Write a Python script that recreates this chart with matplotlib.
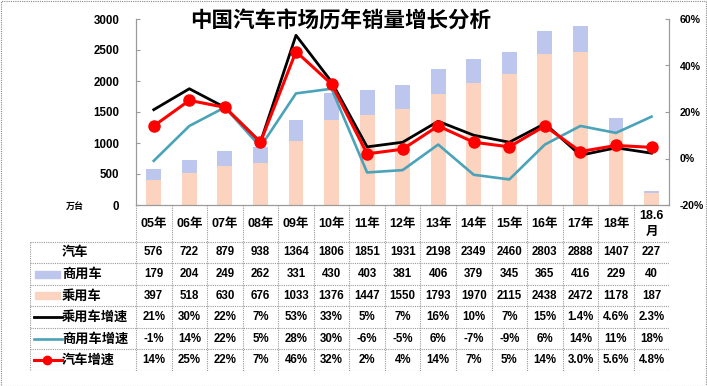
import matplotlib
matplotlib.use('Agg')
import matplotlib.pyplot as plt
from matplotlib.patches import Rectangle
import numpy as np

plt.rcParams['font.family'] = ['Liberation Sans', 'Noto Sans CJK SC']
plt.rcParams['font.weight'] = 'bold'

# datos
anios = ['05年', '06年', '07年', '08年', '09年', '10年', '11年', '12年', '13年',
         '14年', '15年', '16年', '17年', '18年', '18.6\n月']
total = [576, 722, 879, 938, 1364, 1806, 1851, 1931, 2198, 2349, 2460, 2803, 2888, 1407, 227]
comercial = [179, 204, 249, 262, 331, 430, 403, 381, 406, 379, 345, 365, 416, 229, 40]
pasajeros = [397, 518, 630, 676, 1033, 1376, 1447, 1550, 1793, 1970, 2115, 2438, 2472, 1178, 187]
crec_pas = [21, 30, 22, 7, 53, 33, 5, 7, 16, 10, 7, 15, 1.4, 4.6, 2.3]
crec_com = [-1, 14, 22, 5, 28, 30, -6, -5, 6, -7, -9, 6, 14, 11, 18]
crec_tot = [14, 25, 22, 7, 46, 32, 2, 4, 14, 7, 5, 14, 3.0, 5.6, 4.8]
decimales = [0] * 12 + [1] * 3

W, H = 707, 386
c_pas = '#FBD3BE'
c_com = '#BDC6EC'
c_teal = '#4AA3B8'
c_grid = '#9A9A9A'

fig = plt.figure(figsize=(W / 100, H / 100), dpi=100)
fig.patch.set_facecolor('white')

x_izq, x_der, y_top, y_eje, y_fin, x_tab = 136, 669.3, 19, 205, 371, 30

ax = fig.add_axes([x_izq / W, 1 - y_eje / H, (x_der - x_izq) / W, (y_eje - y_top) / H])
x = np.arange(len(anios))
ax.bar(x, pasajeros, width=0.42, color=c_pas, zorder=1)
ax.bar(x, comercial, width=0.42, bottom=pasajeros, color=c_com, zorder=1)
ax.set_xlim(-0.5, len(anios) - 0.5)
ax.set_ylim(0, 3000)
ax.set_yticks(range(0, 3001, 500))
ax.set_xticks([])
ax.tick_params(axis='y', direction='in', length=3, pad=12, labelsize=8.3, color=c_grid)
ax.spines['top'].set_visible(False)
for s in ['left', 'right', 'bottom']:
    ax.spines[s].set_color(c_grid)
    ax.spines[s].set_linewidth(0.8)

ax2 = ax.twinx()
ax2.set_ylim(-0.2, 0.6)
ax2.set_yticks(np.arange(-0.2, 0.61, 0.2))
ax2.set_yticklabels(['%d%%' % round(v * 100) for v in np.arange(-0.2, 0.61, 0.2)])
ax2.tick_params(axis='y', direction='in', length=3, pad=7.5, labelsize=7.6, color=c_grid)
ax2.spines['top'].set_visible(False)
for s in ['left', 'right', 'bottom']:
    ax2.spines[s].set_color(c_grid)
    ax2.spines[s].set_linewidth(0.8)
ax2.plot(x, np.array(crec_pas) / 100, color='black', lw=2.0, zorder=3)
ax2.plot(x, np.array(crec_com) / 100, color=c_teal, lw=1.9, zorder=3)
ax2.plot(x, np.array(crec_tot) / 100, color='#FF0000', lw=2.2, marker='o', ms=8, zorder=4)

fig.text(341 / W, 1 - 21 / H, '中国汽车市场历年销量增长分析', ha='center', va='center',
         fontsize=15.5, fontweight='bold', family=['Noto Sans CJK SC'])
fig.text(75 / W, 1 - 206 / H, '万台', ha='center', va='center', fontsize=6.5,
         family=['Noto Sans CJK SC'])

# tabla de datos
tax = fig.add_axes([x_tab / W, 1 - y_fin / H, (x_der - x_tab) / W, (y_fin - y_eje) / H])
tax.set_xlim(x_tab, x_der)
tax.set_ylim(y_fin, y_eje)
tax.axis('off')
ancho = (x_der - x_izq) / len(anios)
y_cab = 241.7
alto = (y_fin - y_cab) / 6
bordes_x = [x_izq + i * ancho for i in range(len(anios) + 1)]
bordes_y = [y_cab + j * alto for j in range(7)]
ls = (0, (1, 1))
tax.vlines(bordes_x, y_eje, y_fin, colors=c_grid, lw=0.8, linestyles=ls)
tax.vlines([x_tab], y_cab, y_fin, colors=c_grid, lw=0.8, linestyles=ls)
tax.hlines(bordes_y, x_tab, x_der, colors=c_grid, lw=0.8, linestyles=ls)

for i, a in enumerate(anios):
    tax.text(x_izq + (i + 0.5) * ancho, (y_eje + y_cab) / 2 + 0.5, a, ha='center', va='center',
             fontsize=9, linespacing=1.5)

def pct(v, d):
    return ('%.1f%%' % v) if d else ('%d%%' % round(v))

filas = [
    ('汽车', [str(v) for v in total]),
    ('商用车', [str(v) for v in comercial]),
    ('乘用车', [str(v) for v in pasajeros]),
    ('乘用车增速', [pct(v, d) for v, d in zip(crec_pas, decimales)]),
    ('商用车增速', [pct(v, 0) for v in crec_com]),
    ('汽车增速', [pct(v, d) for v, d in zip(crec_tot, decimales)]),
]
for j, (nombre, vals) in enumerate(filas):
    yc = y_cab + (j + 0.5) * alto
    tax.text(62, yc, nombre, ha='left', va='center', fontsize=9.5, family=['Noto Sans CJK SC'])
    for i, v in enumerate(vals):
        tax.text(x_izq + (i + 0.5) * ancho, yc, v, ha='center', va='center', fontsize=8.3)

# claves de leyenda
yk = [y_cab + (j + 0.5) * alto for j in range(6)]
tax.add_patch(Rectangle((34.5, yk[1] - 3.5), 25.5, 7, color=c_com))
tax.add_patch(Rectangle((34.5, yk[2] - 3.5), 25.5, 7, color=c_pas))
tax.plot([34, 62], [yk[3], yk[3]], color='black', lw=2.0)
tax.plot([34, 62], [yk[4], yk[4]], color=c_teal, lw=1.9)
tax.plot([34, 62], [yk[5], yk[5]], color='#FF0000', lw=2.2)
tax.plot([47], [yk[5]], color='#FF0000', marker='o', ms=6)

fig.add_artist(Rectangle((0.5 / W, 0.5 / H), 1 - 1.5 / W, 1 - 1.5 / H, transform=fig.transFigure,
                         fill=False, edgecolor='#888888', lw=0.8, ls=ls))

fig.savefig('out.png', dpi=100)
